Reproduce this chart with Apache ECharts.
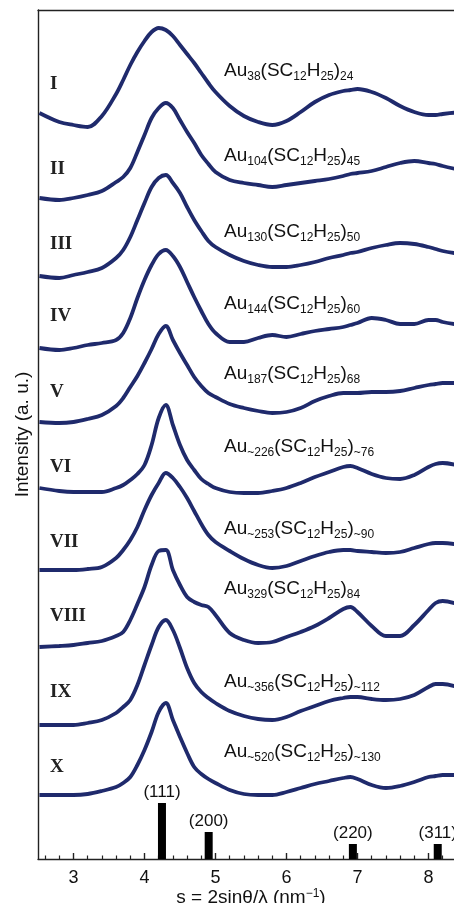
<!DOCTYPE html>
<html>
<head>
<meta charset="utf-8">
<script src="https://cdn.jsdelivr.net/npm/echarts@6/dist/echarts.min.js"></script>
<style>
  html, body { margin: 0; padding: 0; background: #fff; }
  #main { width: 454px; height: 903px; }
</style>
</head>
<body>
<div id="main"></div>
<script>
// scattering vector s (nm^-1), shared by all traces
const s = [2.52, 2.8, 3.0, 3.2, 3.4, 3.6, 3.7, 3.8, 3.9, 4.0, 4.1, 4.2, 4.3, 4.4, 4.5, 4.6, 4.7, 4.8, 4.9, 5.0,
  5.2, 5.4, 5.6, 5.8, 6.0, 6.2, 6.4, 6.6, 6.8, 6.9, 7.0, 7.2, 7.4, 7.6, 7.8, 8.0, 8.1, 8.2, 8.45]

// stacked intensities (a. u.)
const traceI = [746, 737, 734, 732, 743, 765, 779, 794, 807, 818, 827, 831, 829, 823, 814, 805, 796, 786, 776, 767,
  753, 743, 737, 734, 738, 747, 757, 764, 768, 769, 770, 767, 761, 753, 747, 744, 744, 745, 747]
const traceII = [661, 659, 661, 664, 668, 677, 682, 691, 707, 724, 741, 751, 756, 751, 739, 727, 716, 704, 695, 687,
  679, 676, 674, 672, 674, 676, 678, 680, 683, 685, 686, 688, 692, 696, 698, 696, 695, 693, 689]
const traceIII = [583, 581, 584, 587, 591, 601, 609, 622, 639, 656, 672, 681, 684, 676, 666, 652, 639, 628, 618, 612,
  604, 598, 594, 592, 592, 594, 597, 601, 604, 606, 607, 611, 614, 616, 615, 612, 610, 608, 605]
const traceIV = [511, 509, 511, 514, 516, 519, 526, 541, 561, 579, 594, 605, 609, 603, 592, 577, 562, 548, 535, 526,
  517, 517, 521, 524, 522, 525, 528, 530, 532, 534, 536, 541, 539, 535, 535, 539, 539, 537, 534]
const traceV = [437, 436, 437, 440, 444, 453, 461, 472, 483, 496, 510, 525, 533, 519, 506, 494, 482, 473, 466, 462,
  455, 451, 448, 446, 447, 451, 458, 463, 466, 466, 466, 467, 467, 468, 471, 474, 475, 476, 476]
const traceVI = [371, 368, 367, 367, 367, 371, 374, 379, 385, 394, 414, 441, 454, 434, 414, 399, 389, 380, 375, 371,
  367, 366, 366, 368, 371, 376, 382, 387, 392, 393, 391, 385, 381, 380, 384, 392, 395, 396, 393]
const traceVII = [289, 289, 289, 290, 292, 301, 309, 319, 332, 349, 364, 376, 386, 381, 372, 361, 348, 335, 324, 317,
  308, 300, 294, 291, 293, 298, 303, 307, 309, 309, 308, 307, 306, 307, 311, 315, 316, 316, 314]
const traceVIII = [212, 213, 214, 216, 218, 223, 227, 239, 255, 272, 294, 308, 309, 289, 274, 262, 257, 254, 252, 244,
  226, 219, 216, 217, 222, 227, 233, 241, 250, 252, 247, 233, 223, 223, 234, 249, 256, 258, 254]
const traceIX = [134, 134, 134, 136, 139, 146, 152, 159, 174, 194, 214, 232, 239, 229, 211, 191, 176, 167, 161, 156,
  148, 143, 140, 139, 142, 148, 153, 158, 161, 162, 162, 160, 159, 160, 164, 172, 175, 175, 171]
const traceX = [64, 64, 64, 65, 68, 72, 76, 82, 94, 109, 127, 147, 156, 139, 122, 106, 92, 85, 80, 76,
  69, 65, 64, 64, 67, 71, 75, 78, 81, 82, 80, 74, 71, 73, 77, 82, 83, 84, 84]

const traces = [traceI, traceII, traceIII, traceIV, traceV, traceVI, traceVII, traceVIII, traceIX, traceX]
const romans = ['I', 'II', 'III', 'IV', 'V', 'VI', 'VII', 'VIII', 'IX', 'X']
const auCount = ['38', '104', '130', '144', '187', '~226', '~253', '329', '~356', '~520']
const ligandCount = ['24', '45', '50', '60', '68', '~76', '~90', '84', '~112', '~130']

// bulk fcc Au reflections
const hkl = ['(111)', '(200)', '(220)', '(311)']
const hklPos = [4.246, 4.904, 6.935, 8.13]
const hklHeight = [56, 27, 15, 15]

const xTicks = [3, 4, 5, 6, 7, 8]

// layout (px)
const labelY = [85, 170, 245, 317, 393, 468, 543, 617, 693, 768]
const formulaY = [72, 157, 233, 305, 375, 448, 530, 590, 683, 753]

const navy = '#1f2a6c'
const sans = "'Liberation Sans', Arial, sans-serif"

const minorTicks = []
for (let v = 2.6; v < 8.5; v += 0.2) {
  const r = Math.round(v * 10) / 10
  if (Math.abs(r - Math.round(r)) > 0.01) minorTicks.push(r)
}

var myChart = echarts.init(document.getElementById('main'), null, { renderer: 'canvas' })

const series = traces.map((t, i) => ({
  name: romans[i],
  type: 'line',
  xAxisIndex: 0,
  data: s.map((x, k) => [x, t[k]]),
  showSymbol: false,
  smooth: 0.35,
  lineStyle: { color: navy, width: 3.8 },
  z: 3
}))

series.push({
  type: 'bar',
  xAxisIndex: 0,
  barWidth: 8,
  data: hklPos.map((x, k) => [x, hklHeight[k]]),
  itemStyle: { color: '#000' },
  label: {
    show: true,
    position: 'top',
    distance: 2,
    fontFamily: sans,
    fontSize: 17,
    color: '#111',
    formatter: p => hkl[p.dataIndex]
  },
  z: 2
})

const graphics = []
romans.forEach((r, i) => {
  graphics.push({
    type: 'text',
    left: 50,
    top: labelY[i] - 10,
    style: {
      text: r,
      font: "bold 19px 'Liberation Serif', 'Times New Roman', serif",
      fill: '#222'
    }
  })
  graphics.push({
    type: 'text',
    x: 224,
    y: formulaY[i] - 1,
    style: {
      text: '{m|Au}{b|' + auCount[i] + '}{m|(SC}{b|12}{m|H}{b|25}{m|)}{b|' + ligandCount[i] + '}',
      verticalAlign: 'middle',
      rich: {
        m: { fontFamily: sans, fontSize: 19, lineHeight: 24, fill: '#111' },
        b: { fontFamily: sans, fontSize: 12, lineHeight: 12, verticalAlign: 'bottom', fill: '#111' }
      }
    }
  })
})

const option = {
  animation: false,
  backgroundColor: '#fff',
  grid: { left: 38, right: -10, top: 10, bottom: 44, outerBoundsMode: 'none', containLabel: false },
  xAxis: [
    {
      type: 'value',
      min: 2.5,
      max: 8.5,
      position: 'bottom',
      axisLine: { show: true, lineStyle: { color: '#222', width: 1.4 } },
      axisTick: { show: true, inside: true, length: 6, customValues: xTicks, lineStyle: { color: '#222', width: 1.4 } },
      axisLabel: { customValues: xTicks, fontFamily: sans, fontSize: 18, color: '#111', margin: 10 },
      splitLine: { show: false },
      name: 's = 2sinθ/λ (nm{sup|−1})',
      nameLocation: 'middle',
      nameGap: 29,
      nameMoveOverlap: false,
      nameTextStyle: {
        fontFamily: sans,
        fontSize: 19,
        color: '#111',
        rich: {
          sup: { fontFamily: sans, fontSize: 12, lineHeight: 12, verticalAlign: 'top', color: '#111' }
        }
      }
    },
    {
      type: 'value',
      min: 2.5,
      max: 8.5,
      position: 'bottom',
      axisLine: { show: false },
      axisTick: { show: true, inside: true, length: 3.5, customValues: minorTicks, lineStyle: { color: '#222', width: 1.2 } },
      axisLabel: { show: false },
      splitLine: { show: false }
    },
    {
      type: 'value',
      min: 2.5,
      max: 8.5,
      position: 'top',
      axisLine: { show: true, lineStyle: { color: '#222', width: 1.4 } },
      axisTick: { show: false },
      axisLabel: { show: false },
      splitLine: { show: false }
    }
  ],
  yAxis: {
    type: 'value',
    min: 0,
    max: 849,
    axisLine: { show: true, lineStyle: { color: '#222', width: 1.4 } },
    axisTick: { show: false },
    axisLabel: { show: false },
    splitLine: { show: false },
    name: 'Intensity (a. u.)',
    nameLocation: 'middle',
    nameGap: 6,
    nameTextStyle: { fontFamily: sans, fontSize: 19, color: '#111' }
  },
  graphic: graphics,
  series: series
}

myChart.setOption(option)
</script>
</body>
</html>
